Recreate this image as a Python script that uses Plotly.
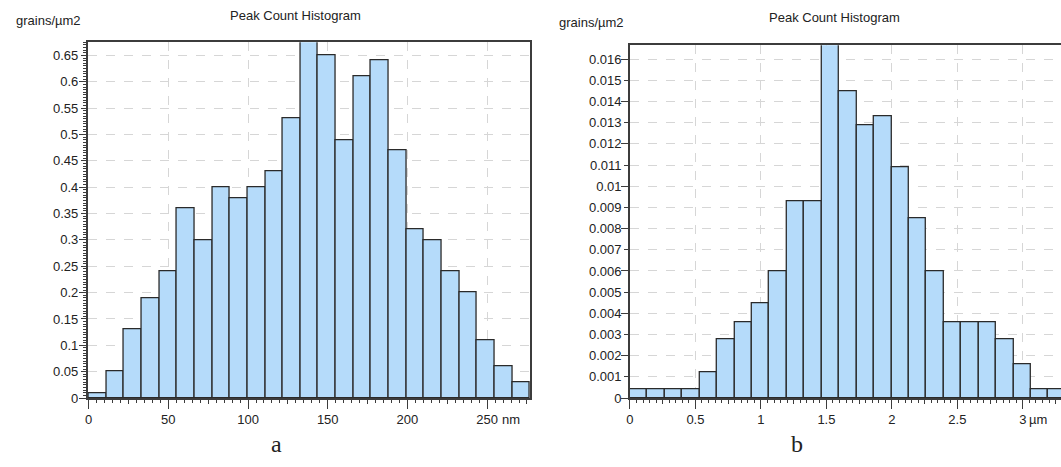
import plotly.graph_objects as go

W, H = 1061, 467

# ---------------- data ----------------
a_bin_width = 11.076  # nm
a_values = [0.01, 0.05, 0.13, 0.19, 0.24, 0.36, 0.30, 0.40, 0.38, 0.40, 0.43, 0.53,
            0.68, 0.65, 0.49, 0.61, 0.64, 0.47, 0.32, 0.30, 0.24, 0.20, 0.11, 0.06, 0.03]
b_bin_width = 0.1331  # µm
b_values = [0.0004, 0.0004, 0.0004, 0.0004, 0.0012, 0.0028, 0.0036, 0.0045, 0.0060,
            0.0093, 0.0093, 0.0168, 0.0145, 0.0129, 0.0133, 0.0109, 0.0085, 0.0060,
            0.0036, 0.0036, 0.0036, 0.0028, 0.0016, 0.0004, 0.0004]
a_x_ticks = [0, 50, 100, 150, 200, 250]
b_x_ticks = [0, 0.5, 1, 1.5, 2, 2.5, 3]
titles = ["Peak Count Histogram", "Peak Count Histogram"]
y_unit = "grains/µm2"
panel_labels = ["a", "b"]

a_centers = [(i + 0.5) * a_bin_width for i in range(len(a_values))]
b_centers = [(i + 0.5) * b_bin_width for i in range(len(b_values))]


def fx(px):
    return px / W


def fy(py):
    return 1 - py / H


FILL = "#b5dbfa"
EDGE = "#2a2a2a"
AX = "#3c3c3c"
GRID = "#d6d6d6"
TXT = "#222222"
FONT = "Liberation Sans, Arial, sans-serif"

fig = go.Figure()
fig.add_trace(go.Bar(x=a_centers, y=a_values, width=a_bin_width,
                     marker=dict(color=FILL, line=dict(color=EDGE, width=1.3)),
                     xaxis="x", yaxis="y", showlegend=False))
fig.add_trace(go.Bar(x=b_centers, y=b_values, width=b_bin_width,
                     marker=dict(color=FILL, line=dict(color=EDGE, width=1.3)),
                     xaxis="x2", yaxis="y2", showlegend=False))
# dummy traces so overlay tick axes get drawn
for xa, ya in [("x3", "y"), ("x", "y3"), ("x4", "y2"), ("x2", "y4")]:
    fig.add_trace(go.Scatter(x=[None], y=[None], xaxis=xa, yaxis=ya,
                             showlegend=False, hoverinfo="skip"))

a_xdom = [fx(84), fx(528)]
a_ydom = [fy(405), fy(43)]
b_xdom = [fx(628.3), 1.0]
b_ydom = [fy(405), fy(46)]
a_xr = [-0.6, 276.9]
a_yr = [0, 0.675]
b_xr = [0, 3.291]
b_yr = [0, 0.01666]

tickfont = dict(family=FONT, size=13, color=TXT)

common = dict(showline=True, linecolor=AX, linewidth=1.6, ticks="outside",
              tickcolor=AX, tickwidth=1, zeroline=False, tickfont=tickfont,
              showgrid=True, gridcolor=GRID, griddash="dash", gridwidth=1)

fig.update_layout(
    width=W, height=H, margin=dict(l=0, r=0, t=0, b=0),
    paper_bgcolor="white", plot_bgcolor="white", bargap=0,
    xaxis=dict(domain=a_xdom, range=a_xr, anchor="y", mirror=True,
               tickvals=a_x_ticks, ticklen=9,
               minor=dict(dtick=5, tick0=0, ticklen=3, ticks="outside", tickcolor=AX, showgrid=False),
               **common),
    yaxis=dict(domain=a_ydom, range=a_yr, anchor="x", mirror=True,
               dtick=0.05, tick0=0, ticklen=5,
               minor=dict(dtick=0.005, tick0=0, ticklen=3, ticks="outside", tickcolor=AX, showgrid=False),
               **common),
    xaxis3=dict(domain=a_xdom, range=a_xr, anchor="y", overlaying="x",
                tickvals=[25, 75, 125, 175, 225, 275], ticks="outside", ticklen=5,
                tickcolor=AX, showticklabels=False, showgrid=False, zeroline=False, showline=False),
    yaxis3=dict(domain=a_ydom, range=a_yr, anchor="x", overlaying="y",
                dtick=0.1, tick0=0, ticks="outside", ticklen=8,
                tickcolor=AX, showticklabels=False, showgrid=False, zeroline=False, showline=False),
    xaxis2=dict(domain=b_xdom, range=b_xr, anchor="y2", mirror=True,
                tickvals=b_x_ticks, ticklen=9,
                minor=dict(dtick=0.05, tick0=0, ticklen=3, ticks="outside", tickcolor=AX, showgrid=False),
                **common),
    yaxis2=dict(domain=b_ydom, range=b_yr, anchor="x2", mirror=False,
                dtick=0.001, tick0=0, ticklen=4, **common),
    xaxis4=dict(domain=b_xdom, range=b_xr, anchor="y2", overlaying="x2",
                tickvals=[0.25, 0.75, 1.25, 1.75, 2.25, 2.75, 3.25], ticks="outside", ticklen=5,
                tickcolor=AX, showticklabels=False, showgrid=False, zeroline=False, showline=False),
    yaxis4=dict(domain=b_ydom, range=b_yr, anchor="x2", overlaying="y2",
                dtick=0.002, tick0=0, ticks="outside", ticklen=8,
                tickcolor=AX, showticklabels=False, showgrid=False, zeroline=False, showline=False),
)

ann = []
# unit labels
ann.append(dict(text=y_unit, x=fx(10), y=fy(21), xanchor="left", yanchor="middle"))
ann.append(dict(text=y_unit, x=fx(555), y=fy(23), xanchor="left", yanchor="middle"))
# titles
ann.append(dict(text=titles[0], x=fx(293), y=fy(16), xanchor="center", yanchor="middle"))
ann.append(dict(text=titles[1], x=fx(834), y=fy(18), xanchor="center", yanchor="middle"))
# axis units
ann.append(dict(text="nm", x=fx(498), y=fy(427), xanchor="left", yanchor="middle"))
ann.append(dict(text="µm", x=fx(1027), y=fy(427), xanchor="left", yanchor="middle"))
for a in ann:
    a.update(xref="paper", yref="paper", showarrow=False,
             font=dict(family=FONT, size=13, color=TXT))
    fig.add_annotation(**a)

fig.add_annotation(text=panel_labels[0], x=fx(274), y=fy(452), xref="paper", yref="paper",
                   showarrow=False, xanchor="center", yanchor="middle",
                   font=dict(family="Liberation Serif, Times New Roman, serif", size=24, color="#222"))
fig.add_annotation(text=panel_labels[1], x=fx(796), y=fy(452), xref="paper", yref="paper",
                   showarrow=False, xanchor="center", yanchor="middle",
                   font=dict(family="Liberation Serif, Times New Roman, serif", size=24, color="#222"))

fig.write_html("out.html")
